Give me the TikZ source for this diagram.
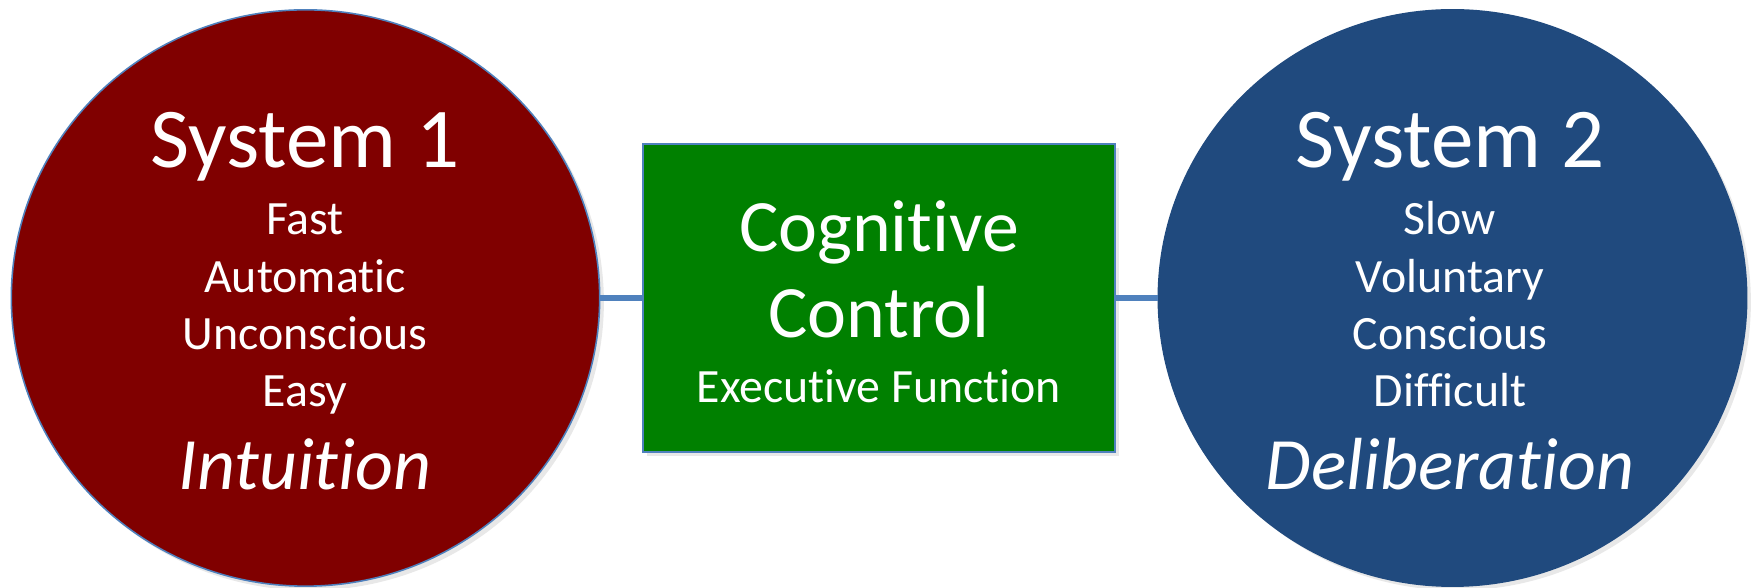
\documentclass[tikz,border=0pt]{standalone}
\usepackage{fontspec}
\setmainfont{Carlito}[Ligatures=NoCommon]
\usepackage{tikz}
\usetikzlibrary{shapes.geometric,shadows}
\usepackage{xcolor}
\definecolor{sysred}{RGB}{128,0,0}
\definecolor{sysblue}{RGB}{32,74,126}
\definecolor{ctrlgreen}{RGB}{0,128,0}
\definecolor{edgeblue}{RGB}{79,129,189}

\begin{document}
\begin{tikzpicture}[x=0.01cm, y=0.01cm,
		blob/.style={ellipse, inner sep=0pt, minimum width=5.88cm, minimum height=5.76cm,
			draw=edgeblue, line width=0.45pt,
			drop shadow={opacity=0.18, shadow xshift=1.2pt, shadow yshift=-1.2pt}},
		ctrlbox/.style={rectangle, inner sep=0pt, minimum width=4.72cm, minimum height=3.08cm,
			fill=ctrlgreen, draw=edgeblue, line width=0.45pt,
			drop shadow={opacity=0.18, shadow xshift=1.2pt, shadow yshift=-1.2pt}},
		title/.style={text=white, anchor=base, font=\fontsize{24.2}{29}\selectfont},
		item/.style={text=white, anchor=base, font=\fontsize{13.6}{16}\selectfont},
		mode/.style={text=white, anchor=base, font=\fontsize{21}{25}\selectfont\itshape},
		link/.style={edgeblue, line width=1.45pt}]
	\useasboundingbox (0,0) rectangle (1757,588);

	% the two systems and the control box between them
	\node[blob, fill=sysred] (sys1) at (305.5,290) {};
	\node[blob, fill=sysblue, draw=sysblue] (sys2) at (1452.5,290) {};
	\node[ctrlbox] (ctrl) at (879,290) {};

	\draw[link] (sys1.east) -- (ctrl.west);
	\draw[link] (ctrl.east) -- (sys2.west);

	% System 1
	\node[title] (t1) at (305,420) {System 1};
	\foreach \w [count=\i] in {Fast,Automatic,Unconscious,Easy}
		\node[item] (a\i) at (305,353-57.3*\i+57.3) {\w};
	\node[mode] (m1) at (305,98) {Intuition};

	% System 2
	\node[title] (t2) at (1450,420) {System 2};
	\foreach \w [count=\i] in {Slow,Voluntary,Conscious,Difficult}
		\node[item] (b\i) at (1450,353-57.3*\i+57.3) {\w};
	\node[mode] (m2) at (1450,98) {Deliberation};

	% middle box
	\node[mode, font=\fontsize{21}{25}\selectfont] (c1) at (879,336) {Cognitive};
	\node[mode, font=\fontsize{21}{25}\selectfont] (c2) at (879,250) {Control};
	\node[item] (c3) at (879,185) {Executive Function};
\end{tikzpicture}
\end{document}
